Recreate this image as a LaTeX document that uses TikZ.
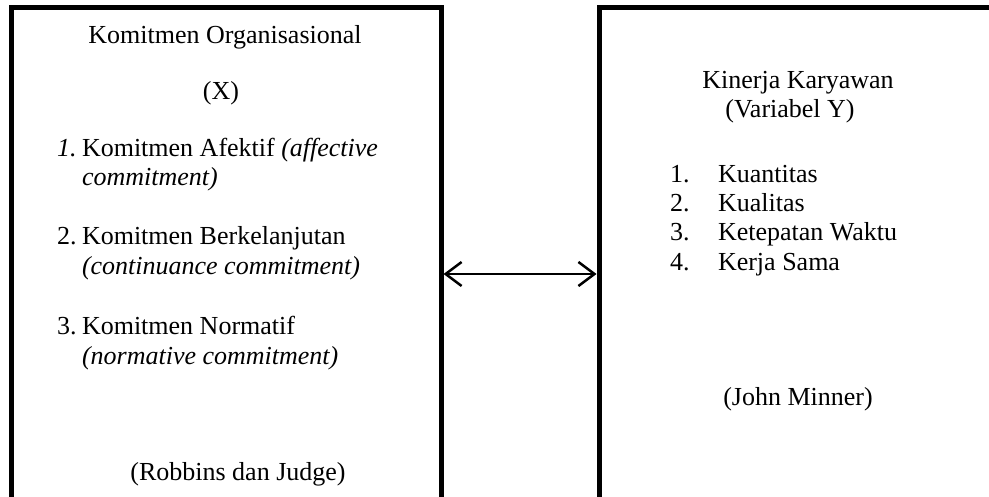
\documentclass[tikz,border=0pt]{standalone}
\usepackage{fontspec}
\setmainfont{Liberation Serif}
\usetikzlibrary{arrows.meta}
\begin{document}
\begin{tikzpicture}[x=1pt,y=-1pt,
  box/.style={draw=black,line width=5pt,inner sep=0pt,outer sep=0pt,anchor=north west},
  txt/.style={inner sep=0pt,outer sep=0pt,font=\fontsize{26}{29}\selectfont},
  lt/.style={txt,anchor=base west},
  ct/.style={txt,anchor=base},
  link/.style={line width=2.5pt,{Straight Barb[length=16pt,width=24pt,line width=2.5pt]}-{Straight Barb[length=16pt,width=24pt,line width=2.5pt]}}]
\useasboundingbox (0,0) rectangle (989,497);
\clip (0,0) rectangle (989,497);
\fill[white] (0,0) rectangle (989,497);
% boxes (bottom / right edges fall outside the picture)
\node[box,minimum width=430pt,minimum height=560pt] (lbox) at (11,8) {};
\node[box,minimum width=430pt,minimum height=560pt] (rbox) at (599,8) {};
% left box texts
\node[ct] (lt1) at (225,44) {Komitmen Organisasional};
\node[ct] (lt2) at (221,100) {(X)};
\node[lt] (ln1) at (57,157) {\textit{1.}};
\node[lt] (li1) at (82,157) {Komitmen Afektif \textit{(affective}};
\node[lt] (li1b) at (82,186) {\textit{commitment)}};
\node[lt] (ln2) at (57,245) {2.};
\node[lt] (li2) at (82,245) {Komitmen Berkelanjutan};
\node[lt] (li2b) at (82,275) {\textit{(continuance commitment)}};
\node[lt] (ln3) at (57,335) {3.};
\node[lt] (li3) at (82,335) {Komitmen Normatif};
\node[lt] (li3b) at (82,364) {\textit{(normative commitment)}};
\node[ct] (lsrc) at (238,480) {(Robbins dan Judge)};
% right box texts
\node[ct] (rt1) at (798,89) {Kinerja Karyawan};
\node[ct] (rt2) at (790,118) {(Variabel Y)};
\node[lt] (rn1) at (670,183) {1.};
\node[lt] (ri1) at (718,183) {Kuantitas};
\node[lt] (rn2) at (670,212) {2.};
\node[lt] (ri2) at (718,212) {Kualitas};
\node[lt] (rn3) at (670,241) {3.};
\node[lt] (ri3) at (718,241) {Ketepatan Waktu};
\node[lt] (rn4) at (670,271) {4.};
\node[lt] (ri4) at (718,271) {Kerja Sama};
\node[ct] (rsrc) at (798,405) {(John Minner)};
% connector
\coordinate (ay) at (0,274);
\draw[link,shorten <=2.5pt,shorten >=2.5pt] (lbox.east |- ay) -- (rbox.west |- ay);
\end{tikzpicture}
\end{document}
